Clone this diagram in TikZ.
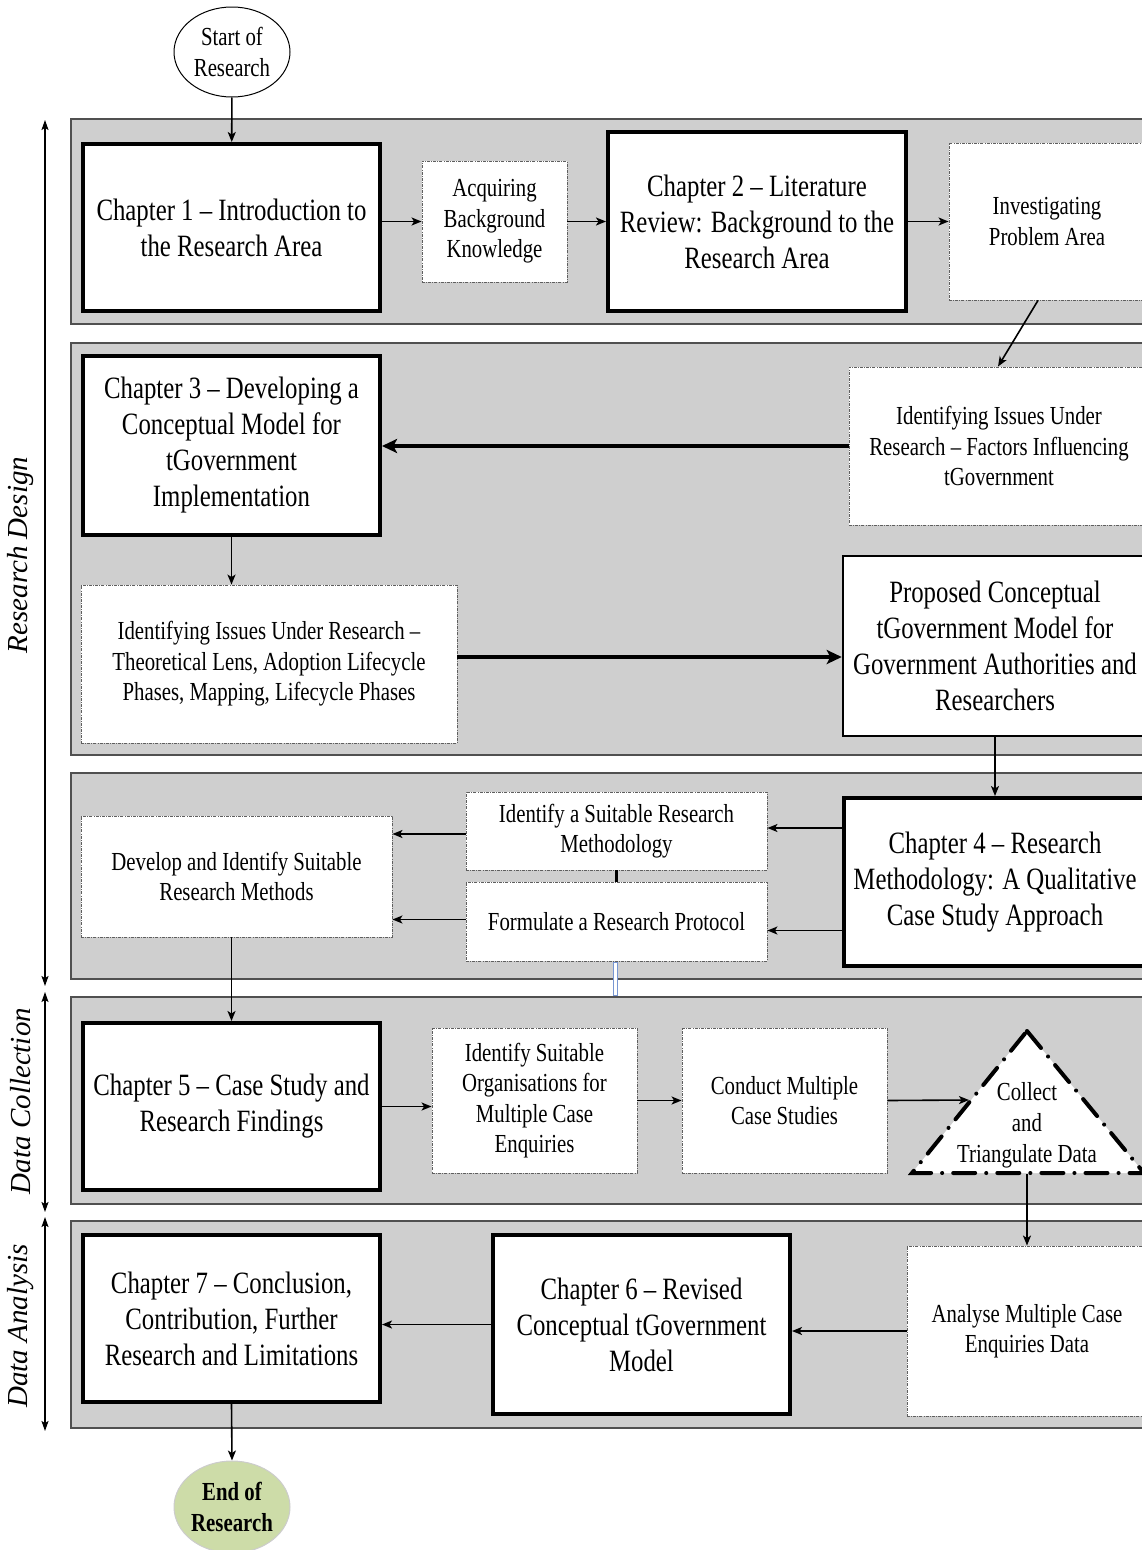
\documentclass[tikz,border=0pt]{standalone}
\usepackage{fontspec}
\setmainfont{Liberation Serif}[FakeStretch=0.8]
\newfontfamily\sidefont{Liberation Serif}
\usetikzlibrary{arrows.meta,shapes.geometric}

\definecolor{bandgray}{RGB}{207,207,207}
\definecolor{bandedge}{RGB}{80,80,80}
\definecolor{dashgray}{RGB}{95,95,95}
\definecolor{endgreen}{RGB}{205,220,168}
\definecolor{markblue}{RGB}{120,150,210}

\begin{document}
\begin{tikzpicture}[x=1pt,y=-1pt,
  band/.style={draw=bandedge, line width=1.3pt, fill=bandgray},
  chap/.style={draw, line width=4pt, fill=white, align=center, inner sep=0pt,
    font=\fontsize{31}{36}\selectfont},
  model/.style={chap, line width=2.5pt},
  task/.style={draw=dashgray, line width=0.9pt,
    dash pattern=on 3pt off 1.2pt on 0.8pt off 1.2pt,
    fill=white, align=center, inner sep=0pt, font=\fontsize{26}{30.5}\selectfont},
  terminal/.style={ellipse, align=center, inner sep=0pt,
    font=\fontsize{26}{31}\selectfont},
  link/.style={line width=1.6pt, -{Stealth[length=10pt,width=8pt,inset=2.5pt]}},
  boldlink/.style={line width=4pt, -{Stealth[length=15pt,width=14pt,inset=3.5pt]}},
  phase/.style={line width=1.3pt,
    {Stealth[length=10pt,width=7pt,inset=2pt]}-{Stealth[length=10pt,width=7pt,inset=2pt]}},
  sidelabel/.style={rotate=90, inner sep=0pt,
    font=\sidefont\itshape\fontsize{29}{33}\selectfont},
  tribord/.style={line width=4pt, line cap=round,
    dash pattern=on 22pt off 11pt on 0.1pt off 11pt}
]
\useasboundingbox (0,0) rectangle (1142,1550);

% phase bands
\draw[band] (71,119) rectangle (1150,324);
\draw[band] (71,343) rectangle (1150,755);
\draw[band] (71,773) rectangle (1150,979);
\draw[band] (71,997) rectangle (1150,1204);
\draw[band] (71,1221) rectangle (1150,1428);

% phase spans on the left
\coordinate (rdTop) at (45,120);
\coordinate (rdBot) at (45,986);
\coordinate (dcTop) at (45,992);
\coordinate (dcBot) at (45,1212);
\coordinate (daTop) at (45,1217);
\coordinate (daBot) at (45,1431);
\draw[phase] (rdTop) -- (rdBot);
\draw[phase] (dcTop) -- (dcBot);
\draw[phase] (daTop) -- (daBot);
\node[sidelabel] (rdLab) at (21,555) {Research Design};
\node[sidelabel] (dcLab) at (21,1101) {Data Collection};
\node[sidelabel] (daLab) at (21,1326) {Data Analysis};

% start and end
\node[terminal, draw, line width=1pt, fill=white,
  minimum width=116pt, minimum height=90pt] (start) at (232,52) {Start of\\Research};
\node[terminal, draw=black!20, line width=1pt, fill=endgreen,
  minimum width=116pt, minimum height=92pt, font=\bfseries\fontsize{26}{31}\selectfont]
  (finish) at (232,1507) {End of\\Research};

% band 1
\node[chap, minimum width=297pt, minimum height=167pt] (c1) at (231.5,227.5)
  {Chapter 1 -- Introduction to\\the Research Area};
\node[task, minimum width=145pt, minimum height=121pt] (acq) at (494.5,221.5)
  {Acquiring\\Background\\Knowledge};
\node[chap, minimum width=298pt, minimum height=179pt] (c2) at (757,221.5)
  {Chapter 2 -- Literature\\Review: Background to the\\Research Area};
\node[task, minimum width=196pt, minimum height=157pt] (inv) at (1047,221.5)
  {Investigating\\Problem Area};

% band 2
\node[chap, minimum width=297pt, minimum height=179pt] (c3) at (231.5,445.5)
  {Chapter 3 -- Developing a\\Conceptual Model for\\tGovernment\\Implementation};
\node[task, minimum width=300pt, minimum height=158pt] (iss) at (999,446)
  {Identifying Issues Under\\Research -- Factors Influencing\\tGovernment};
\node[task, minimum width=376pt, minimum height=158pt] (theo) at (269,664)
  {Identifying Issues Under Research --\\Theoretical Lens, Adoption Lifecycle\\Phases, Mapping, Lifecycle Phases};
\node[model, minimum width=304pt, minimum height=180pt] (prop) at (995,646)
  {Proposed Conceptual\\tGovernment Model for\\Government Authorities and\\Researchers};

% band 3
\node[chap, minimum width=302pt, minimum height=168pt] (c4) at (995,882)
  {Chapter 4 -- Research\\Methodology: A Qualitative\\Case Study Approach};
\node[task, minimum width=301pt, minimum height=78pt] (idm) at (616.5,831)
  {Identify a Suitable Research\\Methodology};
\node[task, minimum width=301pt, minimum height=79pt] (form) at (616.5,921.5)
  {Formulate a Research Protocol};
\node[task, minimum width=311pt, minimum height=121pt] (dev) at (236.5,876.5)
  {Develop and Identify Suitable\\Research Methods};
\draw[draw=markblue, line width=0.7pt, fill=white] (613,962) rectangle (617,995);

% band 4
\node[chap, minimum width=297pt, minimum height=167pt] (c5) at (231.5,1106.5)
  {Chapter 5 -- Case Study and\\Research Findings};
\node[task, minimum width=205pt, minimum height=145pt] (org) at (534.5,1100.5)
  {Identify Suitable\\Organisations for\\Multiple Case\\Enquiries};
\node[task, minimum width=205pt, minimum height=145pt] (con) at (784.5,1100.5)
  {Conduct Multiple\\Case Studies};
\draw[tribord, fill=white] (1027,1031) -- (1144,1173) -- (912,1173) -- cycle;
\node[align=center, inner sep=0pt, font=\fontsize{26}{31}\selectfont] (tri) at (1027,1125)
  {Collect\\and\\Triangulate Data};
\coordinate (triLeft) at (969,1100);
\coordinate (triBase) at (1027,1174);

% band 5
\node[chap, minimum width=297pt, minimum height=167pt] (c7) at (231.5,1318.5)
  {Chapter 7 -- Conclusion,\\Contribution, Further\\Research and Limitations};
\node[chap, minimum width=297pt, minimum height=179pt] (c6) at (641.5,1324.5)
  {Chapter 6 -- Revised\\Conceptual tGovernment\\Model};
\node[task, minimum width=240pt, minimum height=170pt] (ana) at (1027,1331)
  {Analyse Multiple Case\\Enquiries Data};

% connectors
\draw[link] (start) -- (c1);
\draw[link] (acq.west -| c1.east) -- (acq.west);
\draw[link] (acq.east) -- (acq.east -| c2.west);
\draw[link] (c2.east) -- (c2.east -| inv.west);
\draw[link] ([xshift=-9pt]inv.south) -- ([xshift=-1pt]iss.north);
\draw[boldlink] (iss.west) -- (iss.west -| c3.east);
\draw[link] (c3.south) -- (c3.south |- theo.north);
\draw[boldlink] ([yshift=7pt]theo.east) -- ([yshift=7pt]theo.east -| prop.west);
\draw[link] (prop.south) -- (c4.north);
\draw[link] ([yshift=3pt]idm.east -| c4.west) -- ([yshift=3pt]idm.east);
\draw[link] ([yshift=-9pt]form.east -| c4.west) -- ([yshift=-9pt]form.east);
\draw[line width=3pt] (idm.south) -- (form.north);
\draw[link] ([yshift=-3pt]idm.west) -- ([yshift=-3pt]idm.west -| dev.east);
\draw[link] ([yshift=2pt]form.west) -- ([yshift=2pt]form.west -| dev.east);
\draw[link] (c5.north |- dev.south) -- (c5.north);
\draw[link] (c5.east) -- (c5.east -| org.west);
\draw[link] (org.east) -- (con.west);
\draw[link] (con.east) -- (triLeft);
\draw[link] (triBase) -- (triBase |- ana.north);
\draw[link] (ana.west) -- (ana.west -| c6.east);
\draw[link] (c6.west) -- (c6.west -| c7.east);
\draw[link] (c7.south) -- (finish.north);
\end{tikzpicture}
\end{document}
